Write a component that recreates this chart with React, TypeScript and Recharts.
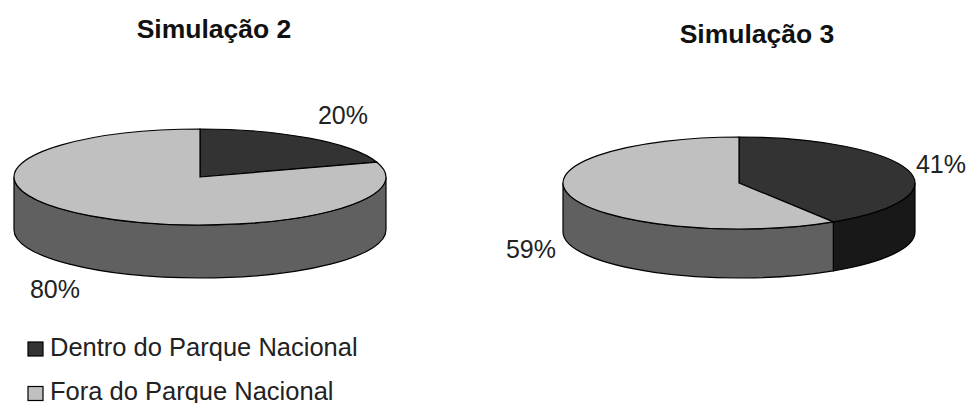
import { Pie, PieChart } from "recharts";

const categories = ["Dentro do Parque Nacional", "Fora do Parque Nacional"];
const simulacao2 = [20, 80];
const simulacao3 = [41, 59];

const topColors = ["#333333", "#c0c0c0"];
const wallColors = ["#181818", "#606060"];
const font = "'Liberation Sans', Arial, sans-serif";

const toRows = (values: number[], colors: string[]) =>
  categories.map((name, i) => ({ name, value: values[i], fill: colors[i] }));

const point = (cx: number, cy: number, rx: number, ry: number, deg: number) => {
  const a = (deg * Math.PI) / 180;
  return [cx + rx * Math.cos(a), cy - ry * Math.sin(a)];
};

// recharts works out the angles, these just squash the sector into an ellipse
const topShape = (ry: number) => (props: any) => {
  const { cx, cy, outerRadius: rx, startAngle, endAngle, fill } = props;
  const [x1, y1] = point(cx, cy, rx, ry, startAngle);
  const [x2, y2] = point(cx, cy, rx, ry, endAngle);
  const large = startAngle - endAngle > 180 ? 1 : 0;
  return (
    <path
      d={`M${cx},${cy} L${x1},${y1} A${rx},${ry} 0 ${large} 1 ${x2},${y2} Z`}
      fill={fill}
      stroke="#000"
      strokeWidth={1.2}
    />
  );
};

const wallShape = (ry: number, depth: number) => (props: any) => {
  const { cx, cy, outerRadius: rx, startAngle, endAngle, fill } = props;
  const from = Math.min(startAngle, 0);
  const to = Math.max(endAngle, -180);
  if (from <= to) return <g />;
  const [x1, y1] = point(cx, cy, rx, ry, from);
  const [x2, y2] = point(cx, cy, rx, ry, to);
  return (
    <path
      d={`M${x1},${y1} A${rx},${ry} 0 0 1 ${x2},${y2} L${x2},${y2 + depth} A${rx},${ry} 0 0 0 ${x1},${y1 + depth} Z`}
      fill={fill}
      stroke="#000"
      strokeWidth={1.2}
    />
  );
};

const pctLabel = (spots: number[][]) => (props: any) => (
  <text
    x={spots[props.index][0]}
    y={spots[props.index][1]}
    textAnchor="middle"
    fontFamily={font}
    fontSize={25}
    fill="#222"
  >
    {`${props.value}%`}
  </text>
);

const noLine = false;

export default function App() {
  return (
    <div style={{ position: "absolute", left: 0, top: 0, width: 968, height: 403, background: "#fff" }}>
      <PieChart width={968} height={403} margin={{ top: 0, right: 0, bottom: 0, left: 0 }}>
        <Pie
          data={toRows(simulacao2, wallColors)}
          dataKey="value"
          cx={200}
          cy={177}
          outerRadius={186}
          startAngle={90}
          endAngle={-270}
          shape={wallShape(48, 53)}
          isAnimationActive={false}
        />
        <Pie
          data={toRows(simulacao2, topColors)}
          dataKey="value"
          cx={200}
          cy={177}
          outerRadius={186}
          startAngle={90}
          endAngle={-270}
          shape={topShape(48)}
          label={pctLabel([[343, 124], [55, 298]])}
          labelLine={noLine}
          isAnimationActive={false}
        />
        <Pie
          data={toRows(simulacao3, wallColors)}
          dataKey="value"
          cx={739}
          cy={183}
          outerRadius={176}
          startAngle={90}
          endAngle={-270}
          shape={wallShape(46, 49)}
          isAnimationActive={false}
        />
        <Pie
          data={toRows(simulacao3, topColors)}
          dataKey="value"
          cx={739}
          cy={183}
          outerRadius={176}
          startAngle={90}
          endAngle={-270}
          shape={topShape(46)}
          label={pctLabel([[941, 173], [531, 258]])}
          labelLine={noLine}
          isAnimationActive={false}
        />
        <text x={214} y={38} textAnchor="middle" fontFamily={font} fontSize={26.5} fontWeight="bold" fill="#111">
          Simulação 2
        </text>
        <text x={757} y={43} textAnchor="middle" fontFamily={font} fontSize={26.5} fontWeight="bold" fill="#111">
          Simulação 3
        </text>
        {categories.map((name, i) => (
          <g key={name}>
            <rect x={28} y={342 + i * 44.5} width={15} height={14} fill={topColors[i]} stroke="#000" strokeWidth={1.2} />
            <text x={50} y={356 + i * 44} fontFamily={font} fontSize={25.5} fill="#222">
              {name}
            </text>
          </g>
        ))}
      </PieChart>
    </div>
  );
}
